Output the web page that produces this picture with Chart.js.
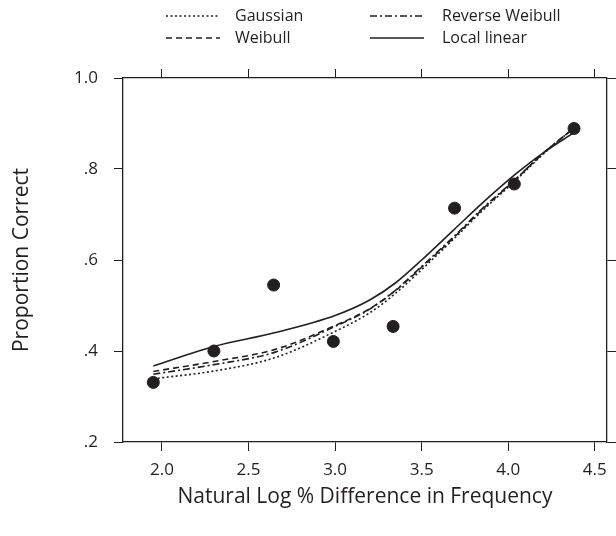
<!DOCTYPE html>
<html>
<head>
<meta charset="utf-8">
<script src="https://cdn.jsdelivr.net/npm/chart.js@4/dist/chart.umd.min.js"></script>
<style>
  body { margin: 0; background: #fff; }
  #wrap { width: 616px; height: 536px; position: relative; }
</style>
</head>
<body>
<div id="wrap"><canvas id="chart"></canvas></div>
<script>
// observed points
const obsX = [1.95, 2.30, 2.645, 2.99, 3.335, 3.69, 4.035, 4.38];
const obsY = [0.331, 0.400, 0.545, 0.421, 0.454, 0.714, 0.767, 0.889];

// fitted curves
const fitX = [1.95, 2.30, 2.65, 3.00, 3.20, 3.35, 3.50, 3.69, 3.85, 4.04, 4.20, 4.38];
const gaussian = [0.339, 0.356, 0.385, 0.443, 0.484, 0.527, 0.579, 0.648, 0.708, 0.774, 0.832, 0.891];
const weibull = [0.355, 0.377, 0.403, 0.456, 0.493, 0.533, 0.584, 0.651, 0.711, 0.776, 0.834, 0.890];
const revWeibull = [0.349, 0.370, 0.397, 0.454, 0.492, 0.534, 0.586, 0.653, 0.713, 0.777, 0.834, 0.890];
const localLinear = [0.367, 0.410, 0.440, 0.478, 0.512, 0.550, 0.600, 0.668, 0.725, 0.788, 0.835, 0.880];

const xTickValues = [2.0, 2.5, 3.0, 3.5, 4.0, 4.5];
const yTickValues = [0.2, 0.4, 0.6, 0.8, 1.0];
const yTickLabels = ['.2', '.4', '.6', '.8', '1.0'];

const ink = '#231f20';
const fontFamily = "'Open Sans', 'Noto Sans', sans-serif";

function pairs(xs, ys) {
  return xs.map((x, i) => ({ x, y: ys[i] }));
}

function curve(label, ys, dash) {
  return {
    type: 'line',
    label,
    data: pairs(fitX, ys),
    borderColor: ink,
    borderWidth: 1.6,
    borderDash: dash,
    pointRadius: 0,
    fill: false,
    cubicInterpolationMode: 'monotone'
  };
}

// two-column legend drawn in the top margin
const legendSlots = [
  { col: 0, row: 0 }, { col: 1, row: 0 }, { col: 0, row: 1 }, { col: 1, row: 1 }
];
const boxLegend = {
  id: 'boxLegend',
  afterDraw(chart) {
    const ctx = chart.ctx;
    const items = chart.data.datasets.filter(d => d.legendSlot !== undefined);
    ctx.save();
    ctx.font = "16px " + fontFamily;
    ctx.fillStyle = ink;
    ctx.textBaseline = 'middle';
    items.forEach(ds => {
      const slot = legendSlots[ds.legendSlot];
      const x0 = slot.col === 0 ? 166 : 370;
      const y = slot.row === 0 ? 16 : 38;
      ctx.beginPath();
      ctx.strokeStyle = ink;
      ctx.lineWidth = ds.borderWidth;
      ctx.setLineDash(ds.borderDash || []);
      ctx.moveTo(x0, y);
      ctx.lineTo(x0 + 54, y);
      ctx.stroke();
      ctx.setLineDash([]);
      ctx.fillText(ds.label, x0 + (slot.col === 0 ? 69 : 72), y);
    });
    ctx.restore();
  }
};

function frameAxis(extra) {
  return Object.assign({
    type: 'linear',
    grid: { drawOnChartArea: false, drawTicks: true, tickLength: 9, color: ink, lineWidth: 1 },
    border: { display: true, color: ink, width: 1.3 }
  }, extra);
}

const gDs = curve('Gaussian', gaussian, [2, 2.5]);
gDs.legendSlot = 0;
const rwDs = curve('Reverse Weibull', revWeibull, [7, 3, 2, 3]);
rwDs.legendSlot = 1;
const wDs = curve('Weibull', weibull, [6, 4]);
wDs.legendSlot = 2;
const llDs = curve('Local linear', localLinear, []);
llDs.legendSlot = 3;

new Chart(document.getElementById('chart'), {
  type: 'scatter',
  data: {
    datasets: [
      {
        type: 'scatter',
        label: 'Observed',
        data: pairs(obsX, obsY),
        backgroundColor: ink,
        borderColor: ink,
        pointRadius: 6,
        pointHoverRadius: 6
      },
      gDs, rwDs, wDs, llDs
    ]
  },
  options: {
    responsive: true,
    maintainAspectRatio: false,
    animation: false,
    layout: { padding: 0 },
    plugins: { legend: { display: false }, tooltip: { enabled: false } },
    scales: {
      x: frameAxis({
        position: 'bottom',
        min: 1.775, max: 4.57,
        afterBuildTicks: s => { s.ticks = xTickValues.map(v => ({ value: v })); },
        afterFit: s => { s.height = 94; },
        ticks: { color: ink, padding: 9, font: { family: fontFamily, size: 17 }, callback: v => v.toFixed(1) },
        title: { display: true, text: 'Natural Log % Difference in Frequency', color: ink,
          font: { family: fontFamily, size: 21 }, padding: { top: 0, bottom: 26 } }
      }),
      x2: frameAxis({
        position: 'top',
        min: 1.775, max: 4.57,
        afterBuildTicks: s => { s.ticks = xTickValues.map(v => ({ value: v })); },
        afterFit: s => { s.height = 78; },
        ticks: { display: false }
      }),
      y: frameAxis({
        position: 'left',
        min: 0.2, max: 1.0,
        afterBuildTicks: s => { s.ticks = yTickValues.map(v => ({ value: v })); },
        afterFit: s => { s.width = 123; },
        ticks: { color: ink, padding: 16, font: { family: fontFamily, size: 17 }, callback: (v, i) => yTickLabels[i] },
        title: { display: true, text: 'Proportion Correct', color: ink,
          font: { family: fontFamily, size: 21 }, padding: { top: 9, bottom: 0 } }
      }),
      y2: frameAxis({
        position: 'right',
        min: 0.2, max: 1.0,
        afterBuildTicks: s => { s.ticks = yTickValues.map(v => ({ value: v })); },
        afterFit: s => { s.width = 8; },
        ticks: { display: false }
      })
    }
  },
  plugins: [boxLegend]
});
</script>
</body>
</html>
